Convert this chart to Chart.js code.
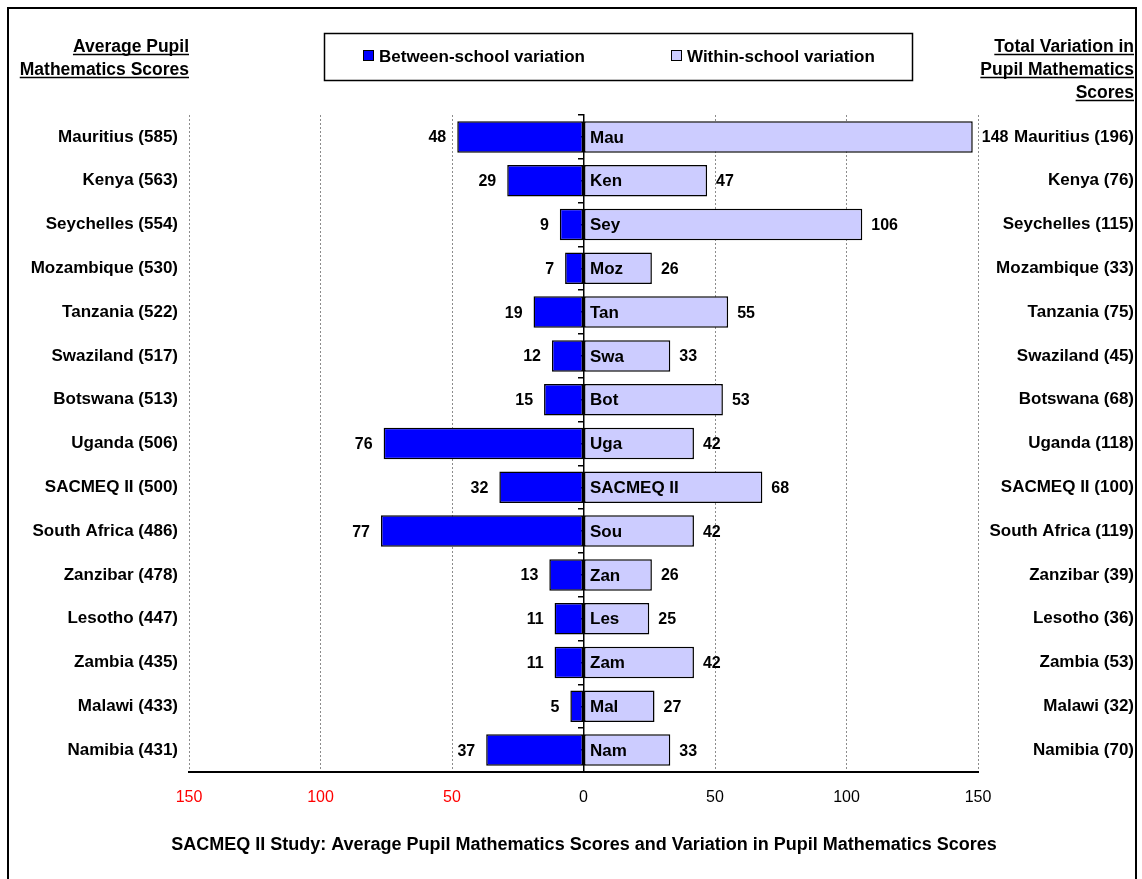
<!DOCTYPE html>
<html>
<head>
<meta charset="utf-8">
<script src="https://cdn.jsdelivr.net/npm/chart.js@4.4.1/dist/chart.umd.min.js"></script>
<style>
  html, body { margin: 0; padding: 0; background: #ffffff; }
  #wrap { width: 1142px; height: 879px; position: relative; }
  canvas { display: block; }
</style>
</head>
<body>
<div id="wrap"><canvas id="chart" width="1142" height="879"></canvas></div>
<script>
// SACMEQ II: mean pupil mathematics score and its variance split by school level
const countries = ["Mauritius", "Kenya", "Seychelles", "Mozambique", "Tanzania", "Swaziland",
  "Botswana", "Uganda", "SACMEQ II", "South Africa", "Zanzibar", "Lesotho", "Zambia", "Malawi", "Namibia"];
const shortNames = ["Mau", "Ken", "Sey", "Moz", "Tan", "Swa", "Bot", "Uga", "SACMEQ II",
  "Sou", "Zan", "Les", "Zam", "Mal", "Nam"];
const meanScores = [585, 563, 554, 530, 522, 517, 513, 506, 500, 486, 478, 447, 435, 433, 431];
const totalVariation = [196, 76, 115, 33, 75, 45, 68, 118, 100, 119, 39, 36, 53, 32, 70];
const betweenSchool = [48, 29, 9, 7, 19, 12, 15, 76, 32, 77, 13, 11, 11, 5, 37];
const withinSchool = [148, 47, 106, 26, 55, 33, 53, 42, 68, 42, 26, 25, 42, 27, 33];
const seriesNames = ["Between-school variation", "Within-school variation"];
const leftHeading = ["Average Pupil", "Mathematics Scores"];
const rightHeading = ["Total Variation in", "Pupil Mathematics", "Scores"];
const chartTitle = "SACMEQ II Study: Average Pupil Mathematics Scores and Variation in Pupil Mathematics Scores";

const leftLabels = countries.map((c, i) => c + " (" + meanScores[i] + ")");
const rightLabels = countries.map((c, i) => c + " (" + totalVariation[i] + ")");

const FONT = "'Liberation Sans', Arial, Helvetica, sans-serif";
const BLUE = "#0000FF";
const LAVENDER = "#CCCCFF";

Chart.defaults.font.family = FONT;
Chart.defaults.color = "#000000";

// Outer frame, underlined side headings, boxed legend and bottom caption
const decorations = {
  id: "decorations",
  beforeDraw(chart) {
    const ctx = chart.ctx;
    ctx.save();
    ctx.fillStyle = "#ffffff";
    ctx.fillRect(0, 0, chart.width, chart.height);
    ctx.restore();
  },
  afterDraw(chart) {
    const ctx = chart.ctx;
    ctx.save();
    // frame
    ctx.strokeStyle = "#000000";
    ctx.lineWidth = 2;
    ctx.strokeRect(8, 8, 1128, 900);

    // side headings
    ctx.font = "bold 17.5px " + FONT;
    ctx.fillStyle = "#000000";
    ctx.textAlign = "right";
    ctx.textBaseline = "alphabetic";
    ctx.lineWidth = 1.5;
    const drawHeading = (lines, xRight) => {
      lines.forEach((t, i) => {
        const y = 52 + i * 23;
        ctx.fillText(t, xRight, y);
        const w = ctx.measureText(t).width;
        ctx.beginPath();
        ctx.moveTo(xRight - w, y + 2.5);
        ctx.lineTo(xRight, y + 2.5);
        ctx.stroke();
      });
    };
    drawHeading(leftHeading, 189);
    drawHeading(rightHeading, 1134);

    // legend box
    ctx.font = "bold 17px " + FONT;
    ctx.lineWidth = 1.5;
    ctx.strokeRect(324.5, 33.5, 588, 47);
    const items = [
      { x: 363, text: seriesNames[0], color: BLUE },
      { x: 671, text: seriesNames[1], color: LAVENDER }
    ];
    ctx.textAlign = "left";
    ctx.textBaseline = "middle";
    items.forEach(it => {
      ctx.fillStyle = it.color;
      ctx.fillRect(it.x, 50, 11, 11);
      ctx.lineWidth = 1;
      ctx.strokeStyle = "#000000";
      ctx.strokeRect(it.x + 0.5, 50.5, 10, 10);
      ctx.fillStyle = "#000000";
      ctx.fillText(it.text, it.x + 16, 57);
    });

    // caption
    ctx.font = "bold 18px " + FONT;
    ctx.textAlign = "center";
    ctx.fillText(chartTitle, 584, 845);
    ctx.restore();
  }
};

// Value labels beside each bar and short names inside the within-school bars
const barLabels = {
  id: "barLabels",
  afterDatasetsDraw(chart) {
    const ctx = chart.ctx;
    ctx.save();
    ctx.fillStyle = "#000000";
    ctx.textBaseline = "middle";
    const between = chart.getDatasetMeta(0).data;
    const within = chart.getDatasetMeta(1).data;
    ctx.font = "bold 16px " + FONT;
    ctx.textAlign = "right";
    between.forEach((bar, i) => {
      ctx.fillText(String(betweenSchool[i]), bar.x - 11, bar.y + 1);
    });
    ctx.textAlign = "left";
    within.forEach((bar, i) => {
      ctx.fillText(String(withinSchool[i]), bar.x + 9, bar.y + 1);
    });
    ctx.font = "bold 17px " + FONT;
    within.forEach((bar, i) => {
      ctx.fillText(shortNames[i], bar.base + 6, bar.y + 1);
    });
    ctx.restore();
  }
};

new Chart(document.getElementById("chart"), {
  type: "bar",
  data: {
    labels: leftLabels,
    datasets: [
      {
        label: seriesNames[0],
        data: betweenSchool.map(v => -v),
        backgroundColor: BLUE,
        borderColor: "#000000",
        borderWidth: 1.5,
        borderSkipped: false,
        categoryPercentage: 1,
        barPercentage: 0.72
      },
      {
        label: seriesNames[1],
        data: withinSchool,
        backgroundColor: LAVENDER,
        borderColor: "#000000",
        borderWidth: 1.5,
        borderSkipped: false,
        categoryPercentage: 1,
        barPercentage: 0.72
      }
    ]
  },
  options: {
    indexAxis: "y",
    responsive: false,
    animation: false,
    devicePixelRatio: 1,
    layout: { padding: { top: 115, right: 8, bottom: 67, left: 0 } },
    plugins: {
      legend: { display: false },
      title: { display: false },
      tooltip: { enabled: false }
    },
    scales: {
      x: {
        type: "linear",
        stacked: true,
        min: -150,
        max: 150,
        afterFit(scale) { scale.height = 40; },
        ticks: {
          stepSize: 50,
          padding: 16,
          font: { size: 16 },
          color: (c) => (c.tick && c.tick.value < 0 ? "#FF0000" : "#000000"),
          callback: (v) => String(Math.abs(v))
        },
        grid: {
          drawTicks: false,
          color: (c) => (c.tick && c.tick.value === 0 ? "rgba(0,0,0,0)" : "#8c8c8c"),
          lineWidth: 1
        },
        border: { display: true, color: "#000000", width: 2, dash: [2, 2] }
      },
      y: {
        type: "category",
        position: "left",
        stacked: true,
        offset: true,
        afterFit(scale) { scale.width = 189; },
        ticks: { padding: 11, font: { size: 17, weight: "bold" }, color: "#000000" },
        grid: { display: false, drawTicks: false },
        border: { display: false }
      },
      yRight: {
        type: "category",
        position: "right",
        labels: rightLabels,
        offset: true,
        afterFit(scale) { scale.width = 156; },
        ticks: { padding: 0, crossAlign: "far", font: { size: 17, weight: "bold" }, color: "#000000" },
        grid: { display: false, drawTicks: false },
        border: { display: false }
      },
      yCenter: {
        type: "category",
        position: { x: 0 },
        labels: leftLabels,
        offset: true,
        z: 1,
        ticks: { display: false },
        grid: { drawOnChartArea: false, drawTicks: true, tickLength: 5, offset: true, color: "#000000", lineWidth: 1.5 },
        border: { display: true, color: "#000000", width: 1.5 }
      },
      yCenterMid: {
        type: "category",
        position: { x: 0 },
        labels: leftLabels,
        offset: true,
        z: 1,
        ticks: { display: false },
        grid: { drawOnChartArea: false, drawTicks: true, tickLength: 3, offset: false, color: "#000000", lineWidth: 1.5 },
        border: { display: false }
      }
    }
  },
  plugins: [decorations, barLabels]
});
</script>
</body>
</html>
